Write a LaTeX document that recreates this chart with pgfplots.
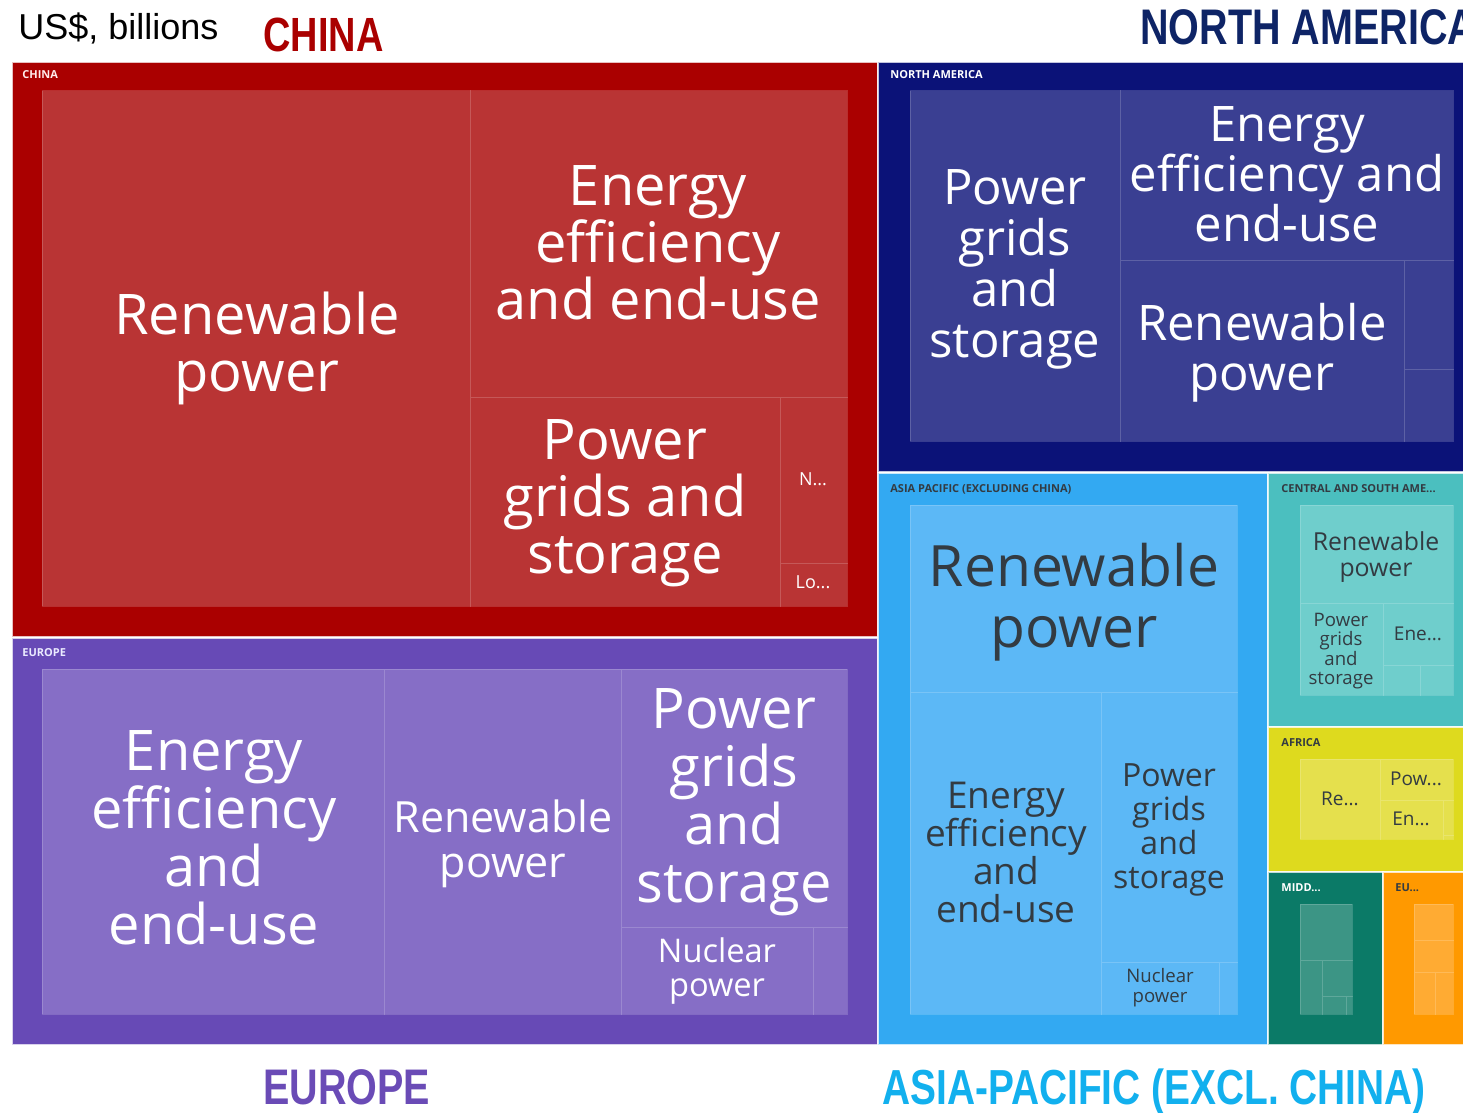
\documentclass[border=0pt]{standalone}
\usepackage{pgfplots}
\pgfplotsset{compat=1.18}
\usepackage{fontspec}
\setmainfont{Open Sans}
\newfontfamily\arialfont{Liberation Sans}
\newfontfamily\narrowfont[FakeStretch=0.79]{Liberation Sans}
\newfontfamily\opensfont{Open Sans}
\definecolor{chO}{HTML}{AA0000}\definecolor{chT}{HTML}{B93434}
\definecolor{naO}{HTML}{0B1278}\definecolor{naT}{HTML}{3A3F92}
\definecolor{euO}{HTML}{674AB6}\definecolor{euT}{HTML}{866EC6}
\definecolor{apO}{HTML}{33A9F2}\definecolor{apT}{HTML}{5CB8F6}
\definecolor{saO}{HTML}{4BBFBF}\definecolor{saT}{HTML}{6FCECC}
\definecolor{afO}{HTML}{DEDA1E}\definecolor{afT}{HTML}{E5E04D}
\definecolor{meO}{HTML}{0B7A67}\definecolor{meT}{HTML}{3C9585}
\definecolor{eaO}{HTML}{FF9900}\definecolor{eaT}{HTML}{FFAB33}
\definecolor{dk}{HTML}{333B42}
\definecolor{tChina}{HTML}{AA0000}
\definecolor{tNA}{HTML}{0E2466}
\definecolor{tEU}{HTML}{6A4BB6}
\definecolor{tAP}{HTML}{12B0EE}
\newcommand{\ORect}[5]{\addplot[fill=#5, draw=white, draw opacity=0.75, line width=0.8pt] coordinates {(#1,#2) (#3,#2) (#3,#4) (#1,#4)} -- cycle;}
\newcommand{\TRect}[5]{\addplot[fill=#5, draw=white, draw opacity=0.18, line width=0.5pt] coordinates {(#1,#2) (#3,#2) (#3,#4) (#1,#4)} -- cycle;}
\newcommand{\TLab}[6]{\node[align=center, text=#5, inner sep=0pt, font={\opensfont\fontsize{#3pt}{#4pt}\selectfont}] at (axis cs:#1,#2) {#6};}
\newcommand{\RLab}[4]{\node[anchor=west, text=#3, inner sep=0pt, font={\opensfont\bfseries\fontsize{5.5pt}{6pt}\selectfont}] at (axis cs:#1,#2) {#4};}
\begin{document}
\begin{tikzpicture}
\useasboundingbox (0,0) rectangle (731.5pt,556.5pt);
\clip (0,0) rectangle (731.5pt,556.5pt);
\begin{axis}[at={(0,0)}, anchor=south west, scale only axis,
  width=731.5pt, height=556.5pt, xmin=0, xmax=1463, ymin=0, ymax=1113,
  y dir=reverse, hide axis, clip=false]
\addplot[fill=white, draw=none] coordinates {(0,0) (1463,0) (1463,1113) (0,1113)} -- cycle;
% CHINA
\ORect{12}{62}{878}{637}{chO}
\TRect{42}{91}{470}{606}{chT}
\TRect{470}{91}{847}{397}{chT}
\TRect{470}{397}{780}{606}{chT}
\TRect{780}{397}{847}{563}{chT}
\TRect{780}{563}{847}{606}{chT}
% NORTH AMERICA
\ORect{878}{62}{1466}{472}{naO}
\TRect{910}{91}{1120}{441}{naT}
\TRect{1120}{91}{1453}{260}{naT}
\TRect{1120}{260}{1404}{441}{naT}
\TRect{1404}{260}{1453}{369}{naT}
\TRect{1404}{369}{1453}{441}{naT}
% EUROPE
\ORect{12}{638}{878}{1045}{euO}
\TRect{42}{669}{384}{1014}{euT}
\TRect{384}{669}{621}{1014}{euT}
\TRect{621}{669}{847}{927}{euT}
\TRect{621}{927}{813}{1014}{euT}
\TRect{813}{927}{847}{1014}{euT}
% ASIA PACIFIC
\ORect{878}{473}{1268}{1045}{apO}
\TRect{910}{505}{1237}{692}{apT}
\TRect{910}{692}{1101}{1014}{apT}
\TRect{1101}{692}{1237}{962}{apT}
\TRect{1101}{962}{1219}{1014}{apT}
\TRect{1219}{962}{1237}{1014}{apT}
% CENTRAL AND SOUTH AMERICA
\ORect{1268}{473}{1466}{727}{saO}
\TRect{1300}{505}{1453}{603}{saT}
\TRect{1300}{603}{1383}{695}{saT}
\TRect{1383}{603}{1453}{665}{saT}
\TRect{1383}{665}{1420}{695}{saT}
\TRect{1420}{665}{1453}{695}{saT}
% AFRICA
\ORect{1268}{727}{1466}{872}{afO}
\TRect{1300}{759}{1380}{839}{afT}
\TRect{1380}{759}{1453}{800}{afT}
\TRect{1380}{800}{1443}{839}{afT}
\TRect{1443}{800}{1453}{835}{afT}
\TRect{1443}{835}{1453}{839}{afT}
% MIDDLE EAST
\ORect{1268}{872}{1383}{1045}{meO}
\TRect{1300}{904}{1352}{960}{meT}
\TRect{1300}{960}{1322}{1014}{meT}
\TRect{1322}{960}{1352}{996}{meT}
\TRect{1322}{996}{1346}{1014}{meT}
\TRect{1346}{996}{1352}{1014}{meT}
% EURASIA
\ORect{1383}{872}{1466}{1045}{eaO}
\TRect{1414}{904}{1453}{940}{eaT}
\TRect{1414}{940}{1453}{972}{eaT}
\TRect{1414}{972}{1435}{1014}{eaT}
\TRect{1435}{972}{1453}{1014}{eaT}
% region labels
\RLab{22}{75}{white!92!red}{CHINA}
\RLab{890}{75}{white}{NORTH AMERICA}
\RLab{22}{653}{white!92!blue}{EUROPE}
\RLab{890}{489}{dk}{ASIA PACIFIC (EXCLUDING CHINA)}
\RLab{1281}{489}{dk}{CENTRAL AND SOUTH AME...}
\RLab{1281}{743}{dk}{AFRICA}
\RLab{1281}{888}{white}{MIDD...}
\RLab{1395}{888}{dk}{EU...}
% tile labels
\TLab{257}{348}{28}{28.5}{white}{Renewable\\power}
\TLab{658}{243}{28}{28.5}{white}{Energy\\efficiency\\and end-use}
\TLab{625}{503}{28}{28.5}{white}{Power\\grids and\\storage}
\TLab{813}{479}{9}{10}{white}{N...}
\TLab{813}{582}{9}{10}{white}{Lo...}
\TLab{1015}{269}{24.5}{25.5}{white}{Power\\grids\\and\\storage}
\TLab{1287}{174}{24.5}{25}{white}{Energy\\efficiency and\\end-use}
\TLab{1262}{353}{24.5}{25}{white}{Renewable\\power}
\TLab{214}{838}{28}{29}{white}{Energy\\efficiency\\and\\end-use}
\TLab{503}{844}{21.5}{22.5}{white}{Renewable\\power}
\TLab{734}{802}{28}{29}{white}{Power\\grids\\and\\storage}
\TLab{717}{971}{16.3}{17}{white}{Nuclear\\power}
\TLab{1074}{602}{28.5}{30.5}{dk}{Renewable\\power}
\TLab{1006}{852}{18.5}{19}{dk}{Energy\\efficiency\\and\\end-use}
\TLab{1169}{830}{16}{17}{dk}{Power\\grids\\and\\storage}
\TLab{1160}{988}{9.3}{10}{dk}{Nuclear\\power}
\TLab{1376}{557}{12.4}{13}{dk}{Renewable\\power}
\TLab{1341}{651}{9.3}{9.8}{dk}{Power\\grids\\and\\storage}
\TLab{1418}{634}{9.5}{10}{dk}{Ene...}
\TLab{1340}{799}{9.5}{10}{dk}{Re...}
\TLab{1416}{779}{9.5}{10}{dk}{Pow...}
\TLab{1411}{819}{9.5}{10}{dk}{En...}
% titles
\node[anchor=base west, inner sep=0pt, text=black, font={\arialfont\fontsize{18pt}{20pt}\selectfont}] at (axis cs:18,40) {US\$, billions};
\node[anchor=base west, inner sep=0pt, text=tChina, font={\narrowfont\bfseries\fontsize{24pt}{26pt}\selectfont}] at (axis cs:263,52) {CHINA};
\node[anchor=base west, inner sep=0pt, text=tNA, font={\narrowfont\bfseries\fontsize{25pt}{27pt}\selectfont}] at (axis cs:1140,45) {NORTH AMERICA};
\node[anchor=base west, inner sep=0pt, text=tEU, font={\narrowfont\bfseries\fontsize{25pt}{27pt}\selectfont}] at (axis cs:263,1104) {EUROPE};
\node[anchor=base west, inner sep=0pt, text=tAP, font={\narrowfont\bfseries\fontsize{24.6pt}{27pt}\selectfont}] at (axis cs:882,1104) {ASIA-PACIFIC (EXCL. CHINA)};
\end{axis}
\end{tikzpicture}
\end{document}
